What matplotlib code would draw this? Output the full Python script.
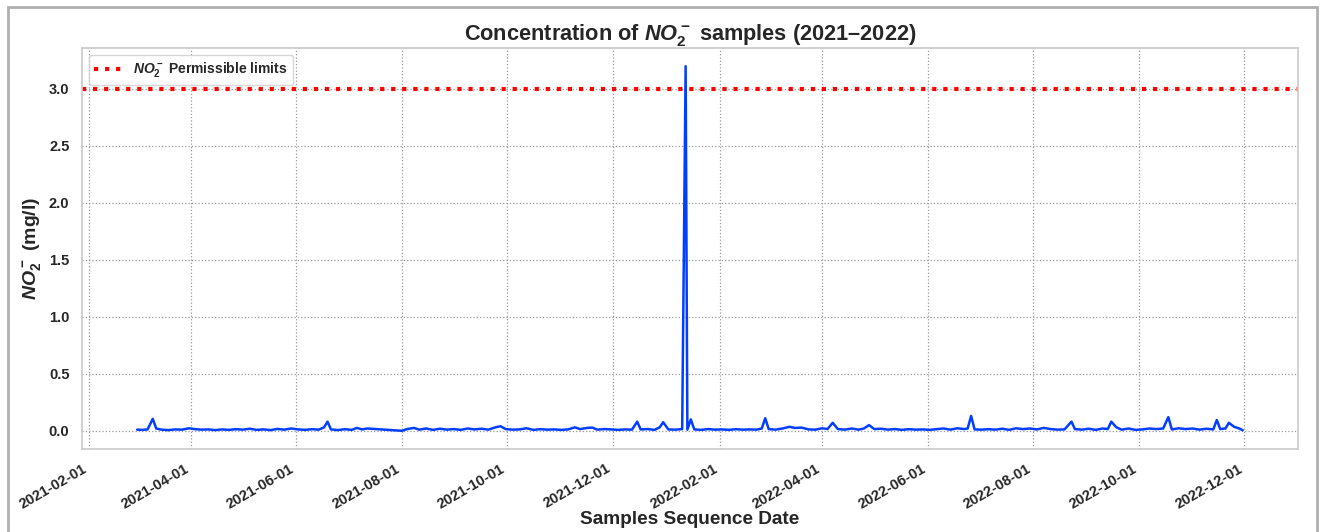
import matplotlib
matplotlib.use('Agg')
import matplotlib.pyplot as plt
import matplotlib.dates as mdates
from matplotlib.patches import Rectangle
import seaborn as sns
import pandas as pd

# NO2- samples
sample_dates = [
    '2021-03-01', '2021-03-04', '2021-03-07', '2021-03-10', '2021-03-12', '2021-03-15', '2021-03-19',
    '2021-03-23', '2021-03-27', '2021-03-31', '2021-04-03', '2021-04-07', '2021-04-11', '2021-04-15',
    '2021-04-19', '2021-04-23', '2021-04-27', '2021-05-01', '2021-05-05', '2021-05-09', '2021-05-13',
    '2021-05-17', '2021-05-21', '2021-05-25', '2021-05-29', '2021-06-02', '2021-06-06', '2021-06-10',
    '2021-06-14', '2021-06-17', '2021-06-19', '2021-06-21', '2021-06-25', '2021-06-29', '2021-07-03',
    '2021-07-06', '2021-07-09', '2021-07-12', '2021-08-01', '2021-08-04', '2021-08-08', '2021-08-11',
    '2021-08-15', '2021-08-19', '2021-08-23', '2021-08-27', '2021-08-31', '2021-09-04', '2021-09-08',
    '2021-09-12', '2021-09-16', '2021-09-20', '2021-09-24', '2021-09-27', '2021-09-30', '2021-10-04',
    '2021-10-08', '2021-10-12', '2021-10-16', '2021-10-20', '2021-10-24', '2021-10-28', '2021-11-01',
    '2021-11-05', '2021-11-09', '2021-11-12', '2021-11-16', '2021-11-19', '2021-11-22', '2021-11-26',
    '2021-11-30', '2021-12-04', '2021-12-08', '2021-12-12', '2021-12-15', '2021-12-17', '2021-12-21',
    '2021-12-25', '2021-12-28', '2021-12-30', '2022-01-02', '2022-01-06', '2022-01-10', '2022-01-12',
    '2022-01-13', '2022-01-15', '2022-01-17', '2022-01-21', '2022-01-25', '2022-01-29', '2022-02-02',
    '2022-02-06', '2022-02-10', '2022-02-14', '2022-02-18', '2022-02-22', '2022-02-25', '2022-02-27',
    '2022-03-01', '2022-03-05', '2022-03-09', '2022-03-13', '2022-03-16', '2022-03-20', '2022-03-24',
    '2022-03-28', '2022-04-01', '2022-04-04', '2022-04-07', '2022-04-10', '2022-04-14', '2022-04-18',
    '2022-04-22', '2022-04-25', '2022-04-28', '2022-05-01', '2022-05-05', '2022-05-09', '2022-05-13',
    '2022-05-17', '2022-05-21', '2022-05-25', '2022-05-29', '2022-06-02', '2022-06-06', '2022-06-10',
    '2022-06-14', '2022-06-18', '2022-06-22', '2022-06-24', '2022-06-26', '2022-06-28', '2022-07-02',
    '2022-07-06', '2022-07-10', '2022-07-14', '2022-07-18', '2022-07-22', '2022-07-26', '2022-07-30',
    '2022-08-03', '2022-08-07', '2022-08-11', '2022-08-15', '2022-08-19', '2022-08-23', '2022-08-25',
    '2022-08-29', '2022-09-02', '2022-09-06', '2022-09-10', '2022-09-13', '2022-09-15', '2022-09-18',
    '2022-09-21', '2022-09-25', '2022-09-29', '2022-10-03', '2022-10-07', '2022-10-11', '2022-10-15',
    '2022-10-18', '2022-10-20', '2022-10-24', '2022-10-28', '2022-11-01', '2022-11-05', '2022-11-09',
    '2022-11-13', '2022-11-15', '2022-11-17', '2022-11-20', '2022-11-22', '2022-11-25', '2022-11-28',
    '2022-11-30',
]
no2_values = [
    0.010, 0.008, 0.012, 0.105, 0.020, 0.010, 0.006,
    0.012, 0.010, 0.022, 0.015, 0.010, 0.012, 0.006,
    0.012, 0.008, 0.014, 0.010, 0.018, 0.008, 0.012,
    0.006, 0.016, 0.010, 0.020, 0.012, 0.008, 0.014,
    0.010, 0.030, 0.080, 0.012, 0.006, 0.014, 0.008,
    0.025, 0.012, 0.020, 0.000, 0.015, 0.025, 0.010,
    0.020, 0.008, 0.018, 0.010, 0.015, 0.008, 0.020,
    0.012, 0.018, 0.010, 0.030, 0.040, 0.015, 0.010,
    0.012, 0.022, 0.008, 0.014, 0.010, 0.012, 0.008,
    0.012, 0.030, 0.015, 0.025, 0.028, 0.010, 0.015,
    0.012, 0.008, 0.012, 0.010, 0.080, 0.012, 0.015,
    0.008, 0.030, 0.075, 0.012, 0.010, 0.015, 3.200,
    0.010, 0.100, 0.012, 0.008, 0.015, 0.010, 0.012,
    0.008, 0.014, 0.010, 0.012, 0.010, 0.020, 0.110,
    0.015, 0.010, 0.020, 0.035, 0.025, 0.028, 0.012,
    0.010, 0.022, 0.015, 0.070, 0.015, 0.010, 0.020,
    0.010, 0.020, 0.050, 0.015, 0.018, 0.010, 0.015,
    0.008, 0.014, 0.010, 0.012, 0.008, 0.014, 0.020,
    0.010, 0.022, 0.015, 0.020, 0.130, 0.012, 0.010,
    0.014, 0.010, 0.018, 0.008, 0.022, 0.015, 0.020,
    0.012, 0.025, 0.015, 0.010, 0.012, 0.080, 0.015,
    0.010, 0.018, 0.008, 0.020, 0.015, 0.080, 0.030,
    0.010, 0.020, 0.008, 0.012, 0.020, 0.015, 0.020,
    0.120, 0.012, 0.022, 0.015, 0.020, 0.010, 0.018,
    0.012, 0.095, 0.015, 0.020, 0.070, 0.035, 0.020,
    0.005,
]
permissible_limit = 3.0

df = pd.DataFrame({'date': pd.to_datetime(sample_dates), 'no2': no2_values})

sns.set_theme(style='whitegrid')
plt.rcParams['font.family'] = ['Liberation Sans', 'DejaVu Sans']
plt.rcParams['font.weight'] = 'bold'
plt.rcParams['mathtext.fontset'] = 'custom'
plt.rcParams['mathtext.it'] = 'Liberation Sans:italic:bold'
plt.rcParams['mathtext.rm'] = 'Liberation Sans:bold'
plt.rcParams['mathtext.bf'] = 'Liberation Sans:bold'

fig = plt.figure(figsize=(13.21, 5.32), dpi=100)
ax = fig.add_axes([0.062, 0.156, 0.9206, 0.7538])

ax.plot(df['date'], df['no2'], color='#023eff', linewidth=1.8)
ax.axhline(permissible_limit, color='red', linestyle=':', linewidth=3,
           label=r'$NO_2^-$ Permissible limits')

ax.grid(True, linestyle=':', color='#999999', linewidth=0.9)
for sp in ax.spines.values():
    sp.set_color('#cccccc')

ax.xaxis.set_major_locator(mdates.MonthLocator(bymonth=[2, 4, 6, 8, 10, 12], bymonthday=1))
ax.xaxis.set_major_formatter(mdates.DateFormatter('%Y-%m-%d'))
plt.setp(ax.get_xticklabels(), rotation=30, ha='right', fontsize=10.5, fontweight='bold')
plt.setp(ax.get_yticklabels(), fontsize=10.5, fontweight='bold')
ax.tick_params(axis='both', pad=3)

ax.set_title(r'Concentration of $NO_2^-$ samples (2021–2022)', fontsize=15.7, fontweight='bold', pad=6)
ax.set_xlabel('Samples Sequence Date', fontsize=13.7, fontweight='bold', labelpad=0)
ax.set_ylabel(r'$NO_2^-$ (mg/l)', fontsize=14, fontweight='bold')

ax.legend(loc='upper left', fontsize=10, frameon=True, edgecolor='#cccccc')

# grey frame around the whole figure
fig.patches.append(Rectangle((8 / 1321, -0.05), 1309 / 1321, 1.05 - 7 / 532, transform=fig.transFigure,
                             fill=False, edgecolor='#b0b0b0', linewidth=2))

fig.savefig('out.png', dpi=100)
